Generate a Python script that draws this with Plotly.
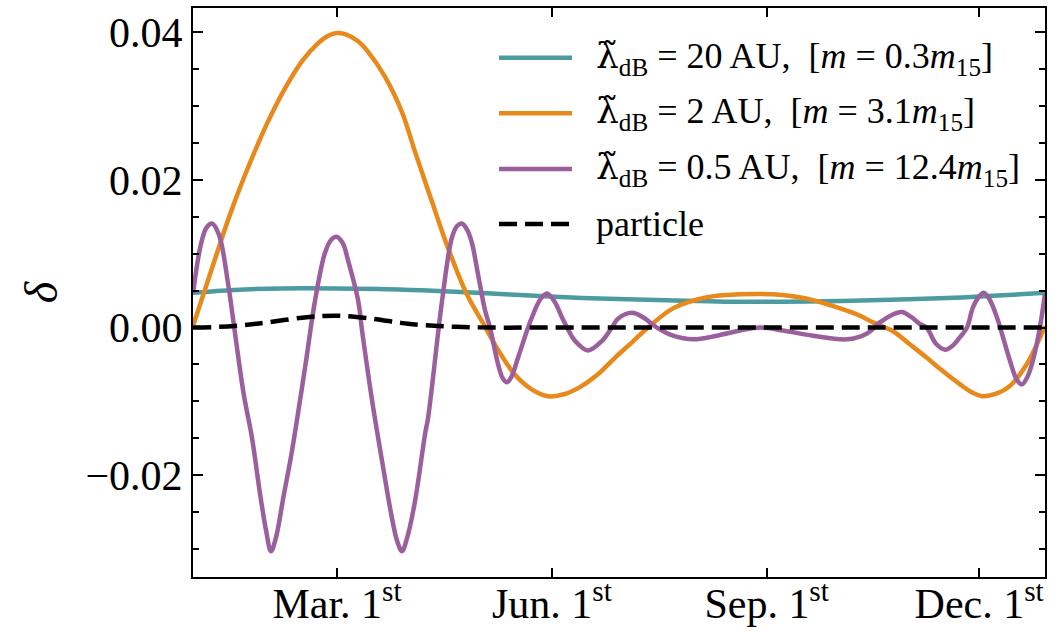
import plotly.graph_objects as go

# ---- data: day of year (Jan 1 = 0) and density contrast delta ----
teal_day = [-2.7, 15, 35, 59, 80, 100, 125, 150, 175, 200, 225, 250, 275, 300, 320, 340, 362.2]
teal_delta = [0.0047, 0.0051, 0.0053, 0.0053, 0.0052, 0.0050, 0.0046, 0.0042, 0.0039, 0.0037,
              0.0035, 0.0035, 0.0036, 0.0038, 0.0040, 0.0043, 0.0047]

orange_day = [-2.7, 3.0, 8.0, 13.0, 19.6, 25.0, 29.4, 36.7, 44.0, 50.8, 55.0, 59.0, 63.0, 68.0,
              72.2, 79.5, 86.8, 92.4, 99.7, 106.5, 114.6, 122.4, 127.9, 135.2, 142.5, 149.3,
              156.6, 163.9, 170.8, 178.0, 185.3, 192.2, 202.9, 217.4, 231.6, 245.7, 260.3,
              274.4, 283.0, 288.5, 297.1, 304.0, 311.6, 318.0, 325.8, 331.0, 335.6, 341.0,
              347.2, 354.5, 360.0, 362.2]
orange_delta = [0.0002, 0.0057, 0.0105, 0.0152, 0.0207, 0.0248, 0.0279, 0.0324, 0.0361, 0.0385,
                0.0395, 0.0399, 0.0397, 0.0388, 0.0374, 0.0340, 0.0292, 0.0238, 0.0170, 0.0108,
                0.0045, 0.0001, -0.0030, -0.0064, -0.0084, -0.0093, -0.0090, -0.0079, -0.0063,
                -0.0041, -0.0020, 0.0000, 0.0026, 0.0041, 0.0045, 0.0045, 0.0039, 0.0026,
                0.0016, 0.0007, -0.0005, -0.0022, -0.0041, -0.0058, -0.0077, -0.0088, -0.0093,
                -0.0090, -0.0079, -0.0049, -0.0014, 0.0002]

purple_day = [-2.7, 0.5, 3.0, 5.5, 8.5, 12.3, 15.3, 19.0, 22.6, 26.0, 28.6, 30.7, 32.8, 36.0,
              39.7, 45.3, 49.6, 53.8, 56.5, 58.8, 61.5, 63.7, 68.0, 69.7, 74.0, 78.5, 82.5,
              84.8, 86.8, 89.0, 92.4, 96.7, 98.0, 104.0, 108.2, 110.5, 112.5, 114.8, 116.8,
              119.5, 122.4, 124.5, 127.9, 130.0, 131.8, 133.8, 136.5, 140.8, 142.5, 146.0,
              148.9, 152.0, 155.3, 157.5, 160.9, 166.5, 172.5, 176.7, 179.3, 185.3, 190.0,
              196.0, 202.9, 211.4, 221.7, 231.6, 240.1, 250.0, 262.8, 277.4, 286.0, 291.5,
              296.0, 300.9, 305.0, 308.6, 311.5, 315.5, 319.4, 322.5, 325.8, 328.8, 331.3,
              334.0, 336.1, 338.5, 341.6, 343.0, 347.2, 350.0, 352.3, 354.5, 357.0, 360.0, 362.2]
purple_delta = [0.0046, 0.0110, 0.0135, 0.0141, 0.0125, 0.0060, -0.0008, -0.0090, -0.0150,
                -0.0225, -0.0275, -0.0303, -0.0285, -0.0230, -0.0167, -0.0054, 0.0037, 0.0101,
                0.0119, 0.0123, 0.0114, 0.0091, 0.0037, -0.0004, -0.0099, -0.0185, -0.0258,
                -0.0290, -0.0303, -0.0285, -0.0235, -0.0144, -0.0122, 0.0037, 0.0122, 0.0138,
                0.0141, 0.0132, 0.0114, 0.0070, 0.0023, 0.0000, -0.0049, -0.0069, -0.0074,
                -0.0066, -0.0041, 0.0000, 0.0014, 0.0038, 0.0046, 0.0036, 0.0014, 0.0000,
                -0.0018, -0.0031, -0.0018, 0.0000, 0.0012, 0.0020, 0.0014, 0.0000, -0.0011,
                -0.0016, -0.0011, -0.0004, 0.0000, -0.0004, -0.0011, -0.0016, -0.0008, 0.0007,
                0.0016, 0.0021, 0.0014, 0.0005, 0.0000, -0.0022, -0.0030, -0.0025, -0.0013,
                0.0000, 0.0027, 0.0042, 0.0047, 0.0038, 0.0014, 0.0000, -0.0045, -0.0070,
                -0.0077, -0.0068, -0.0045, 0.0000, 0.0046]

particle_day = [-2.7, 15, 29, 46, 59, 74, 87, 97, 110, 125, 150, 200, 250, 300, 362.2]
particle_delta = [0.0000, 0.0002, 0.0007, 0.0014, 0.0016, 0.0012, 0.0006, 0.0003, 0.0001,
                  0.0000, 0.0000, 0.0000, 0.0000, 0.0000, 0.0000]

month_ticks = [59, 151, 243, 334]
month_labels = ["Mar. 1<sup>st</sup>", "Jun. 1<sup>st</sup>", "Sep. 1<sup>st</sup>", "Dec. 1<sup>st</sup>"]

delta_ticks = [-0.02, 0.0, 0.02, 0.04]
delta_labels = ["\u22120.02", "0.00", "0.02", "0.04"]

LAMBDA = "<span style=\"font-family:'DejaVu Serif'\">\u03bb\u0303</span>"
series_names = [
    LAMBDA + "<sub>dB</sub> = 20 AU,\u00a0\u00a0[<i>m</i> = 0.3<i>m</i><sub>15</sub>]",
    LAMBDA + "<sub>dB</sub> = 2 AU,\u00a0\u00a0[<i>m</i> = 3.1<i>m</i><sub>15</sub>]",
    LAMBDA + "<sub>dB</sub> = 0.5 AU,\u00a0\u00a0[<i>m</i> = 12.4<i>m</i><sub>15</sub>]",
    "particle",
]
series_colors = ["#4c9ba0", "#e8891c", "#9c5f9e", "#000000"]
series_dash = ["solid", "solid", "solid", "18px,8px"]

FONT = "Liberation Serif"
W, H = 1060, 631
ML, MR, MT, MB = 193, 15, 8, 54

fig = go.Figure()
all_series = [(teal_day, teal_delta), (orange_day, orange_delta),
              (purple_day, purple_delta), (particle_day, particle_delta)]
for (d, v), name, col, dash in zip(all_series, series_names, series_colors, series_dash):
    fig.add_trace(go.Scatter(
        x=d, y=v, name=name, mode="lines", showlegend=False,
        line=dict(color=col, width=4.5, dash=dash, shape="spline", smoothing=1.0),
    ))

# legend drawn in paper coordinates (pixel helper)
plot_w = W - ML - MR
plot_h = H - MT - MB


def px_x(px):
    return (px - ML) / plot_w


def px_y(py):
    return (H - MB - py) / plot_h


legend_rows = [57.7, 113.3, 169, 224]
for row_y, name, col, dash in zip(legend_rows, series_names, series_colors, series_dash):
    fig.add_shape(type="line", xref="paper", yref="paper",
                  x0=px_x(499), x1=px_x(572), y0=px_y(row_y), y1=px_y(row_y),
                  line=dict(color=col, width=4.5, dash=dash))
    fig.add_annotation(xref="paper", yref="paper", x=px_x(594), y=px_y(row_y),
                       xanchor="left", yanchor="middle", text=name, showarrow=False,
                       font=dict(family=FONT, size=36, color="black"))

axis_common = dict(
    showgrid=False, zeroline=False, showline=True, linecolor="black", linewidth=2,
    mirror="allticks", ticks="inside", tickcolor="black", tickwidth=1.5, automargin=False,
    tickfont=dict(family=FONT, size=42, color="black"),
)

fig.update_xaxes(range=[-2.7, 362.2], tickmode="array", tickvals=month_ticks,
                 ticktext=month_labels, ticklen=9, ticklabelstandoff=-11, **axis_common)
fig.update_yaxes(range=[-0.0338, 0.0433], tickmode="array", tickvals=delta_ticks,
                 ticktext=delta_labels, ticklen=10,
                 minor=dict(tickmode="linear", tick0=0, dtick=0.005, ticks="inside",
                            ticklen=6, tickwidth=1.5, tickcolor="black"),
                 title=dict(text="<i>\u03b4</i>", font=dict(family=FONT, size=46, color="black"),
                            standoff=13),
                 **axis_common)

fig.update_layout(
    width=W, height=H,
    margin=dict(l=ML, r=MR, t=MT, b=MB),
    paper_bgcolor="white", plot_bgcolor="white",
)

fig.write_html("out.html")
